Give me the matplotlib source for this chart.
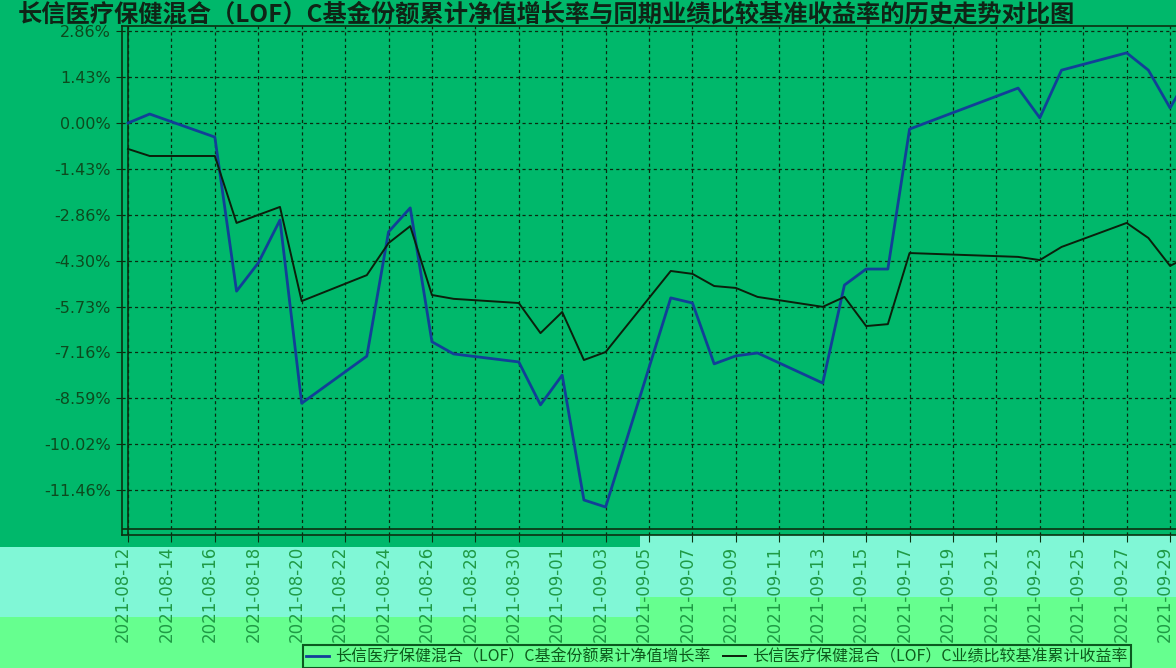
import matplotlib
matplotlib.use('Agg')
import matplotlib.pyplot as plt
import matplotlib.dates as mdates
import matplotlib.transforms as mtransforms
from matplotlib.patches import Rectangle
import pandas as pd

# trading days shown on the chart
dates = ['2021-08-12', '2021-08-13', '2021-08-16', '2021-08-17', '2021-08-18',
         '2021-08-19', '2021-08-20', '2021-08-23', '2021-08-24', '2021-08-25',
         '2021-08-26', '2021-08-27', '2021-08-30', '2021-08-31', '2021-09-01',
         '2021-09-02', '2021-09-03', '2021-09-06', '2021-09-07', '2021-09-08',
         '2021-09-09', '2021-09-10', '2021-09-13', '2021-09-14', '2021-09-15',
         '2021-09-16', '2021-09-17', '2021-09-22', '2021-09-23', '2021-09-24',
         '2021-09-27', '2021-09-28', '2021-09-29', '2021-09-30']

# cumulative NAV growth of the fund (%)
fund_growth = [0.00, 0.28, -0.44, -5.25, -4.37, -3.03, -8.75, -7.28, -3.40, -2.65,
               -6.83, -7.21, -7.46, -8.80, -7.87, -11.77, -11.99, -5.46, -5.62, -7.52,
               -7.27, -7.18, -8.12, -5.06, -4.56, -4.56, -0.19, 1.09, 0.16, 1.65,
               2.19, 1.65, 0.47, 1.65]

# cumulative benchmark return (%)
benchmark = [-0.81, -1.03, -1.03, -3.12, -2.87, -2.62, -5.56, -4.75, -3.75, -3.22,
             -5.37, -5.49, -5.62, -6.56, -5.90, -7.40, -7.15, -4.62, -4.71, -5.09,
             -5.15, -5.43, -5.74, -5.43, -6.34, -6.28, -4.06, -4.18, -4.28, -3.87,
             -3.12, -3.59, -4.46, -4.12]

y_ticks = [2.86, 1.43, 0.00, -1.43, -2.86, -4.30, -5.73, -7.16, -8.59, -10.02, -11.46]
tick_dates = pd.date_range('2021-08-12', '2021-09-29', freq='2D')

title = '长信医疗保健混合（LOF）C基金份额累计净值增长率与同期业绩比较基准收益率的历史走势对比图'
series_names = ['长信医疗保健混合（LOF）C基金份额累计净值增长率',
                '长信医疗保健混合（LOF）C业绩比较基准累计收益率']

BG = '#00b86b'
CYAN = '#80f7d6'
LIGHT = '#66ff8f'
DARK = '#0b3010'

plt.rcParams['font.family'] = ['Noto Sans CJK SC', 'DejaVu Sans']

W, H = 1176, 668
fig = plt.figure(figsize=(W / 100, H / 100), dpi=100, facecolor=BG)


def band(x0, y0, x1, y1, color):
    # background strip, pixel coords measured from the top left
    fig.add_artist(Rectangle((x0 / W, 1 - y1 / H), (x1 - x0) / W, (y1 - y0) / H,
                             transform=fig.transFigure, facecolor=color,
                             edgecolor='none', zorder=-5))


band(0, 547, 640, 617, CYAN)
band(0, 617, 640, H, LIGHT)
band(640, 523, W, 597, CYAN)
band(640, 597, W, H, LIGHT)

# plot frame: left spine at 122px, first day at 128px, ~21.7px per day
px_day = 21.71
px_pct = 32.03
ax = fig.add_axes([122 / W, 1 - 535 / H, (1194 - 122) / W, (535 - 26) / H])
ax.set_facecolor(BG)

x = mdates.date2num(pd.to_datetime(dates))
start = mdates.date2num(pd.Timestamp('2021-08-12'))
ax.set_xlim(start - 6 / px_day, start + (1194 - 128) / px_day)
ax.set_ylim((123 - 535) / px_pct, (123 - 26) / px_pct)

ax.plot(x, fund_growth, color='#123f98', lw=2.0, label=series_names[0], zorder=4)
ax.plot(x, benchmark, color='#0b1f0b', lw=1.4, label=series_names[1], zorder=4)

ax.grid(True, color='#0a2a10', linestyle=(0, (2.5, 2.5)), linewidth=0.9)
ax.axvline(start, color=DARK, lw=1.2, zorder=3)
ax.axhline((123 - 529) / px_pct, color=DARK, lw=1.2, zorder=3)
for s in ax.spines.values():
    s.set_color(DARK)
    s.set_linewidth(1.2)

ax.set_yticks(y_ticks)
ax.set_yticklabels([f'{v:.2f}%' for v in y_ticks], fontfamily='DejaVu Sans')
ax.tick_params(axis='y', length=4, pad=4, color=DARK, labelcolor='#0d4a1e', labelsize=11.5)

ax.set_xticks(mdates.date2num(tick_dates))
ax.set_xticklabels(tick_dates.strftime('%Y-%m-%d'), rotation=90, fontfamily='DejaVu Sans')
ax.tick_params(axis='x', length=5, pad=3, color=DARK, labelcolor='#1f9a45', labelsize=12)
shift = mtransforms.ScaledTranslation(-5 / 100, 0, fig.dpi_scale_trans)
for lab in ax.get_xticklabels():
    lab.set_transform(lab.get_transform() + shift)

fig.text(18 / W, 1 - 22 / H, title, ha='left', va='baseline', fontsize=17.5,
         fontweight='bold', color='#0f2416')

leg = fig.legend(loc='upper left', bbox_to_anchor=(303 / W, 1 - 645 / H), ncol=2,
                 frameon=True, fancybox=False, edgecolor='#0b5a20', facecolor=LIGHT,
                 framealpha=1, fontsize=11.5, borderpad=0.2, handlelength=1.4,
                 columnspacing=0.8, handletextpad=0.4, borderaxespad=0)
leg.get_frame().set_linewidth(1.5)
for t in leg.get_texts():
    t.set_color('#0d5a1c')

fig.savefig('out.png', dpi=100, facecolor=BG)
